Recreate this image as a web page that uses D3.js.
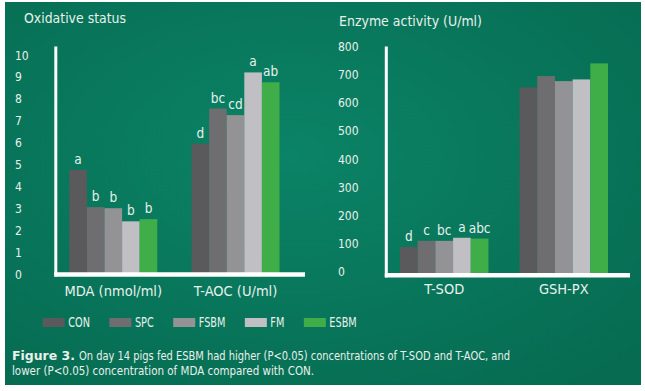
<!DOCTYPE html>
<html>
<head>
<meta charset="utf-8">
<script src="https://cdn.jsdelivr.net/npm/d3@7"></script>
<style>
  body { margin: 0; background: #fff; }
  svg text { font-family: "Liberation Sans Narrow", "DejaVu Sans Condensed", "Open Sans", sans-serif; fill: #e8f1ec; }
</style>
</head>
<body>
<svg id="chart" width="645" height="391"></svg>
<script>
// data
var groups = ["CON", "SPC", "FSBM", "FM", "ESBM"]
var colors = ["#5a595b", "#6e6e70", "#939396", "#c0c0c4", "#3fae49"]

var oxCats = ["MDA (nmol/ml)", "T-AOC (U/ml)"]
var oxValues = [[4.8, 3.1, 3.05, 2.45, 2.55], [6.0, 7.6, 7.3, 9.25, 8.8]]
var oxLetters = [["a", "b", "b", "b", "b"], ["d", "bc", "cd", "a", "ab"]]
var oxTicks = [0, 1, 2, 3, 4, 5, 6, 7, 8, 9, 10]

var enCats = ["T-SOD", "GSH-PX"]
var enValues = [[90, 112, 112, 123, 120], [659, 699, 681, 687, 744]]
var enLetters = [["d", "c", "bc", "a", "abc"], ["", "", "", "", ""]]
var enTicks = [0, 100, 200, 300, 400, 500, 600, 700, 800]

var captionBold = "Figure 3."
var captionLine1 = "On day 14 pigs fed ESBM had higher (P<0.05) concentrations of  T-SOD and T-AOC, and"
var captionLine2 = "lower (P<0.05) concentration of MDA compared with CON."

var svg = d3.select("#chart")

// green panel background
var defs = svg.append("defs")
var grad = defs.append("radialGradient").attr("id", "bg")
    .attr("cx", "45%").attr("cy", "40%").attr("r", "75%")
grad.append("stop").attr("offset", "0%").attr("stop-color", "#0b8366")
grad.append("stop").attr("offset", "100%").attr("stop-color", "#066b51")

svg.append("rect")
    .attr("x", 5).attr("y", 2)
    .attr("width", 636).attr("height", 383)
    .attr("fill", "url(#bg)")

var drawPanel = function(p)
{
    var g = svg.append("g")

    var yScale = d3.scaleLinear()
        .domain(p.domain)
        .range(p.yRange)
    var xScale = d3.scaleBand()
        .domain(p.cats)
        .range(p.xRange)
        .paddingInner(p.pad)
    var inner = d3.scaleBand()
        .domain(groups)
        .range([0, xScale.bandwidth()])

    // title
    g.append("text")
        .text(p.title)
        .attr("x", p.titleX).attr("y", p.titleY)
        .attr("font-size", "14px")
        .attr("textLength", p.titleW).attr("lengthAdjust", "spacingAndGlyphs")
        .attr("dominant-baseline", "middle")

    // tick labels
    g.selectAll(".tick")
        .data(p.ticks)
        .enter()
        .append("text")
        .attr("x", p.tickX)
        .attr("y", function(d){ return yScale(d) })
        .attr("dominant-baseline", "middle")
        .attr("font-size", "12px")
        .text(function(d){ return d })

    // bars
    var cg = g.selectAll(".cat")
        .data(p.cats)
        .enter()
        .append("g")
        .attr("transform", function(d){ return "translate(" + xScale(d) + ",0)" })

    cg.selectAll("rect")
        .data(function(d, i){ return p.values[i].map(function(v, j){ return {v: v, k: groups[j], l: p.letters[i][j]} }) })
        .enter()
        .append("rect")
        .attr("x", function(d){ return inner(d.k) })
        .attr("width", inner.bandwidth())
        .attr("y", function(d){ return yScale(d.v) })
        .attr("height", function(d){ return p.baseY - yScale(d.v) })
        .attr("fill", function(d, j){ return colors[j] })

    cg.selectAll(".lbl")
        .data(function(d, i){ return p.values[i].map(function(v, j){ return {v: v, k: groups[j], l: p.letters[i][j]} }) })
        .enter()
        .append("text")
        .attr("x", function(d){ return inner(d.k) + inner.bandwidth() / 2 })
        .attr("y", function(d){ return yScale(d.v) - 6 })
        .attr("text-anchor", "middle")
        .attr("font-size", "13.5px")
        .text(function(d){ return d.l })

    // category labels
    g.selectAll(".catlbl")
        .data(p.cats)
        .enter()
        .append("text")
        .attr("x", function(d){ return xScale(d) + xScale.bandwidth() / 2 })
        .attr("y", p.catY)
        .attr("text-anchor", "middle")
        .attr("dominant-baseline", "middle")
        .attr("font-size", "14.5px")
        .text(function(d){ return d })

    // axis lines (white, thick)
    g.append("line")
        .attr("x1", p.axisX).attr("x2", p.axisX)
        .attr("y1", p.axisTop).attr("y2", p.baseY + 2)
        .attr("stroke", "#fff").attr("stroke-width", 3)
    g.append("line")
        .attr("x1", p.axisX - 1.5).attr("x2", p.axisEnd)
        .attr("y1", p.baseY).attr("y2", p.baseY)
        .attr("stroke", "#fff").attr("stroke-width", 4.5)
}

drawPanel({
    title: "Oxidative status", titleX: 24, titleY: 19, titleW: 102,
    cats: oxCats, values: oxValues, letters: oxLetters, ticks: oxTicks,
    domain: [0, 10], yRange: [275, 56], baseY: 274.5,
    xRange: [69.3, 279.5], pad: 0.28,
    tickX: 15, axisX: 55.8, axisTop: 46.5, axisEnd: 305, catY: 292
})

drawPanel({
    title: "Enzyme activity (U/ml)", titleX: 339, titleY: 21.5, titleW: 143,
    cats: enCats, values: enValues, letters: enLetters, ticks: enTicks,
    domain: [0, 800], yRange: [272.3, 47.7], baseY: 275.3,
    xRange: [400, 608], pad: 0.26,
    tickX: 338, axisX: 386.3, axisTop: 46.5, axisEnd: 630, catY: 290
})

// legend
var legend = svg.append("g").attr("transform", "translate(42.7,322.5)")
var lx = 0
groups.forEach(function(name, i){
    var item = legend.append("g").attr("transform", "translate(" + lx + ",0)")
    item.append("rect")
        .attr("x", 0).attr("y", -4.5)
        .attr("width", 22).attr("height", 9)
        .attr("fill", colors[i])
    var t = item.append("text")
        .attr("x", 25.5).attr("y", 0.5)
        .attr("dominant-baseline", "middle")
        .attr("font-size", "13.5px")
        .text(name)
    var w = t.node().getComputedTextLength() * 0.8
    t.attr("textLength", w).attr("lengthAdjust", "spacingAndGlyphs")
    lx += 25.5 + w + 19.5
})

// caption
svg.append("text")
    .attr("x", 12).attr("y", 359.5)
    .attr("font-size", "13px")
    .attr("font-weight", "bold")
    .attr("textLength", 63).attr("lengthAdjust", "spacingAndGlyphs")
    .text(captionBold)
svg.append("text")
    .attr("x", 79).attr("y", 359.5)
    .attr("font-size", "13px")
    .attr("textLength", 431).attr("lengthAdjust", "spacingAndGlyphs")
    .text(captionLine1)
svg.append("text")
    .attr("x", 12).attr("y", 374.5)
    .attr("font-size", "13px")
    .attr("textLength", 302).attr("lengthAdjust", "spacingAndGlyphs")
    .text(captionLine2)
</script>
</body>
</html>
